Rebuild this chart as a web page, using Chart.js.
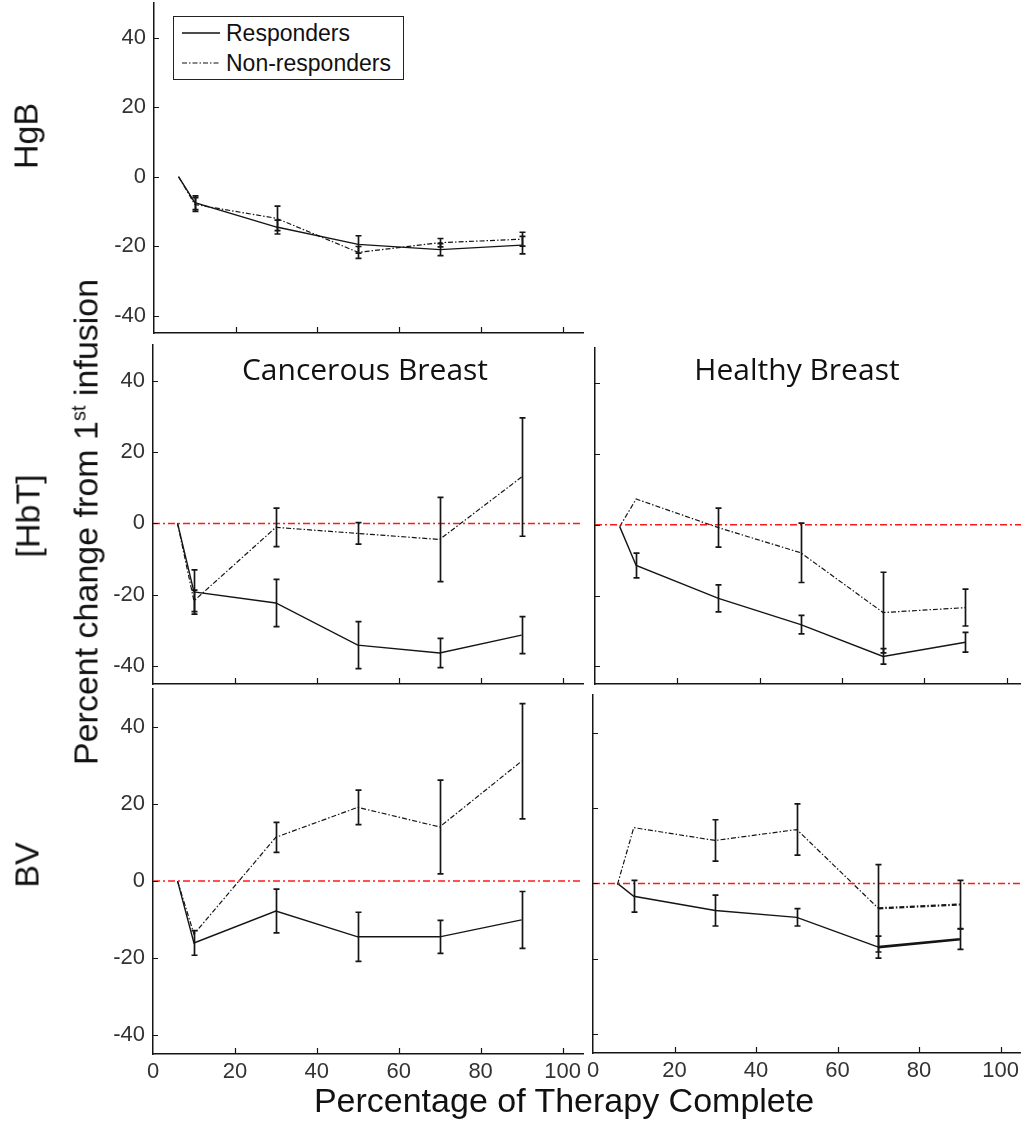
<!DOCTYPE html>
<html>
<head>
<meta charset="utf-8">
<script src="https://cdn.jsdelivr.net/npm/chart.js@4/dist/chart.umd.min.js"></script>
<style>
  body { margin: 0; background: #fff; }
  #wrap { position: relative; width: 1021px; height: 1133px; background: #fff; overflow: hidden; }
  canvas { position: absolute; }
  .lab { position: absolute; font-family: "Liberation Sans", Arial, sans-serif; color: #111; white-space: nowrap; }
  .rot { transform: translate(-50%, -50%) rotate(-90deg); }
  .ctr { transform: translate(-50%, -50%); }
  .ttl { font-family: "Open Sans", sans-serif; font-size: 30px; }
  #legend { position: absolute; left: 173px; top: 16px; width: 229px; height: 62px; border: 1.5px solid #222;
            background: #fff; font-family: "Liberation Sans", Arial, sans-serif; font-size: 23px; color: #111; z-index: 5; }
  #legend .row { position: absolute; left: 8px; height: 28px; display: flex; align-items: center; }
  #legend svg { margin-right: 6px; }
</style>
</head>
<body>
<div id="wrap">
  <canvas id="hgb" width="590" height="340" style="left:0;top:0"></canvas>
  <canvas id="hbtCancer" width="590" height="350" style="left:0;top:340px"></canvas>
  <canvas id="hbtHealthy" width="436" height="350" style="left:585px;top:340px"></canvas>
  <canvas id="bvCancer" width="600" height="404" style="left:0;top:686px"></canvas>
  <canvas id="bvHealthy" width="438" height="404" style="left:583px;top:686px"></canvas>

  <div id="legend">
    <div class="row" style="top:2px">
      <svg width="38" height="4"><line x1="0" y1="2" x2="38" y2="2" stroke="#111" stroke-width="1.4"/></svg>Responders
    </div>
    <div class="row" style="top:32px">
      <svg width="38" height="4"><line x1="0" y1="2" x2="38" y2="2" stroke="#111" stroke-width="1.2" stroke-dasharray="5 2 1.5 2"/></svg>Non-responders
    </div>
  </div>

  <div class="lab rot" style="left:26px;top:136px;font-size:34px">HgB</div>
  <div class="lab rot" style="left:28px;top:516px;font-size:34px">[HbT]</div>
  <div class="lab rot" style="left:27px;top:865px;font-size:34px">BV</div>
  <div class="lab rot" style="left:86px;top:522px;font-size:34px">Percent change from 1<sup style="font-size:20px">st</sup> infusion</div>
  <div class="lab ctr" style="left:564px;top:1100px;font-size:34px">Percentage of Therapy Complete</div>
  <div class="lab ctr ttl" style="left:365px;top:368px">Cancerous Breast</div>
  <div class="lab ctr ttl" style="left:797px;top:368px">Healthy Breast</div>
</div>

<script>
// x positions (percentage of therapy complete)
const therapyPct = [6, 10, 30, 50, 70, 90];
const yTicks = [-40, -20, 0, 20, 40];

// HgB
const hgbResp = [0, -7.5, -14.5, -19.5, -21, -19.7];
const hgbRespErr = [0, 2, 2, 2.5, 1.7, 2.5];
const hgbNon = [0, -8, -12, -21.8, -19, -18];
const hgbNonErr = [0, 2, 3.5, 1.7, 1.2, 2];

// [HbT] cancerous breast
const hbtCancerResp = [0, -19.2, -22.3, -34.1, -36.3, -31.3];
const hbtCancerRespErr = [0, 6.2, 6.6, 6.6, 4.1, 5.2];
const hbtCancerNon = [0, -21.7, -1.1, -2.8, -4.5, 13];
const hbtCancerNonErr = [0, 3, 5.4, 3, 11.8, 16.6];

// [HbT] healthy breast
const hbtHealthyResp = [-0.5, -11.5, -20.8, -28.2, -37.2, -33.2];
const hbtHealthyRespErr = [0, 3.5, 3.8, 2.6, 2.2, 2.8];
const hbtHealthyNon = [-0.5, 7.3, -0.8, -7.9, -24.8, -23.4];
const hbtHealthyNonErr = [0, 0, 5.5, 8.4, 11.4, 5.2];

// BV cancerous breast
const bvCancerResp = [0, -16.1, -7.8, -14.5, -14.5, -10.1];
const bvCancerRespErr = [0, 3.2, 5.7, 6.4, 4.3, 7.4];
const bvCancerNon = [0, -13.8, 11.4, 19.2, 14.1, 31.2];
const bvCancerNonErr = [0, 0, 3.9, 4.5, 12.2, 15];

// BV healthy breast
const bvHealthyResp = [0, -3.4, -7.2, -9, -16.9, -14.8];
const bvHealthyRespErr = [0, 4.2, 4.1, 2.3, 2.9, 2.7];
const bvHealthyNon = [-0.3, 14.8, 11.4, 14.3, -6.6, -5.6];
const bvHealthyNonErr = [0, 0, 5.5, 6.8, 11.6, 6.4];

const ink = '#151515';
const tickFont = { family: 'Liberation Sans, Arial, sans-serif', size: 22 };

function pts(vals) {
  return therapyPct.map((p, i) => ({ x: p, y: vals[i] }));
}

// vertical error bars with caps, drawn through the chart scales
const errorBars = {
  id: 'errorBars',
  afterDatasetsDraw(chart) {
    const { ctx, scales: { x, y } } = chart;
    ctx.save();
    ctx.strokeStyle = ink;
    ctx.lineWidth = 1.7;
    chart.data.datasets.forEach(ds => {
      if (!ds.errors) return;
      ds.data.forEach((p, i) => {
        const e = ds.errors[i];
        if (!e) return;
        const px = Math.round(x.getPixelForValue(p.x)) + 0.5;
        const top = y.getPixelForValue(p.y + e);
        const bot = y.getPixelForValue(p.y - e);
        ctx.beginPath();
        ctx.moveTo(px, top); ctx.lineTo(px, bot);
        ctx.moveTo(px - 3, top); ctx.lineTo(px + 3, top);
        ctx.moveTo(px - 3, bot); ctx.lineTo(px + 3, bot);
        ctx.stroke();
      });
    });
    ctx.restore();
  }
};

// matlab style ticks pointing into the plot
const innerTicks = {
  id: 'innerTicks',
  afterDraw(chart) {
    const { ctx, chartArea: a, scales: { x, y } } = chart;
    ctx.save();
    ctx.strokeStyle = ink;
    ctx.lineWidth = 1.2;
    ctx.beginPath();
    y.ticks.forEach(t => {
      const py = Math.round(y.getPixelForValue(t.value)) + 0.5;
      ctx.moveTo(a.left, py); ctx.lineTo(a.left + 5, py);
    });
    x.ticks.forEach(t => {
      if (t.value === 0) return;
      const px = Math.round(x.getPixelForValue(t.value)) + 0.5;
      ctx.moveTo(px, a.bottom); ctx.lineTo(px, a.bottom - 6);
    });
    ctx.stroke();
    ctx.restore();
  }
};

function makePanel(id, o) {
  const datasets = [
    {
      label: 'Responders', data: pts(o.resp), errors: o.respErr,
      borderColor: ink, borderWidth: 1.4,
      segment: o.thickTail ? { borderWidth: c => c.p0DataIndex >= 4 ? 2.6 : 1.4 } : undefined
    },
    {
      label: 'Non-responders', data: pts(o.non), errors: o.nonErr,
      borderColor: ink, borderWidth: 1.2, borderDash: [5, 2, 1.5, 2],
      segment: o.thickTail ? { borderWidth: c => c.p0DataIndex >= 4 ? 2.2 : 1.2 } : undefined
    }
  ];
  if (o.zeroLine) {
    datasets.unshift({
      label: 'zero', data: [{ x: 0, y: 0 }, { x: o.xMax, y: 0 }],
      borderColor: '#ff1a1a', borderWidth: 1.5, borderDash: [7, 3, 2, 3]
    });
  }
  return new Chart(document.getElementById(id), {
    type: 'line',
    data: { datasets },
    options: {
      responsive: false,
      animation: false,
      devicePixelRatio: 1,
      layout: { padding: { top: o.padTop, right: o.padRight, left: 0, bottom: 0 } },
      elements: { point: { radius: 0 }, line: { tension: 0 } },
      plugins: { legend: { display: false }, tooltip: { enabled: false } },
      scales: {
        x: {
          type: 'linear', min: 0, max: o.xMax,
          grid: { drawOnChartArea: false, drawTicks: false },
          border: { color: ink, width: 1.5 },
          ticks: { stepSize: 20, includeBounds: false, display: !!o.xLabels,
                   font: tickFont, color: '#333', padding: 5, maxRotation: 0 },
          afterFit: s => { s.height = o.xH; s.paddingLeft = 0; s.paddingRight = 0; }
        },
        y: {
          min: -45, max: 50,
          grid: { drawOnChartArea: false, drawTicks: false },
          border: { color: ink, width: 1.5 },
          ticks: { stepSize: 20, includeBounds: false, display: !!o.yLabels,
                   font: tickFont, color: '#333', padding: 8 },
          afterFit: s => { s.width = o.yW; s.paddingTop = 0; s.paddingBottom = 0; }
        }
      }
    },
    plugins: [errorBars, innerTicks]
  });
}

makePanel('hgb', {
  resp: hgbResp, respErr: hgbRespErr, non: hgbNon, nonErr: hgbNonErr,
  xMax: 105, yW: 154, padTop: 3, padRight: 7, xH: 7, yLabels: true
});
makePanel('hbtCancer', {
  resp: hbtCancerResp, respErr: hbtCancerRespErr, non: hbtCancerNon, nonErr: hbtCancerNonErr,
  xMax: 105, yW: 153, padTop: 5, padRight: 7, xH: 6, yLabels: true, zeroLine: true
});
makePanel('hbtHealthy', {
  resp: hbtHealthyResp, respErr: hbtHealthyRespErr, non: hbtHealthyNon, nonErr: hbtHealthyNonErr,
  xMax: 103.5, yW: 10, padTop: 8, padRight: 0, xH: 6, zeroLine: true
});
makePanel('bvCancer', {
  resp: bvCancerResp, respErr: bvCancerRespErr, non: bvCancerNon, nonErr: bvCancerNonErr,
  xMax: 105, yW: 153, padTop: 3, padRight: 17, xH: 36, yLabels: true, xLabels: true, zeroLine: true
});
makePanel('bvHealthy', {
  resp: bvHealthyResp, respErr: bvHealthyRespErr, non: bvHealthyNon, nonErr: bvHealthyNonErr,
  xMax: 105, yW: 10, padTop: 9, padRight: 0, xH: 37, xLabels: true, zeroLine: true, thickTail: true
});
</script>
</body>
</html>
